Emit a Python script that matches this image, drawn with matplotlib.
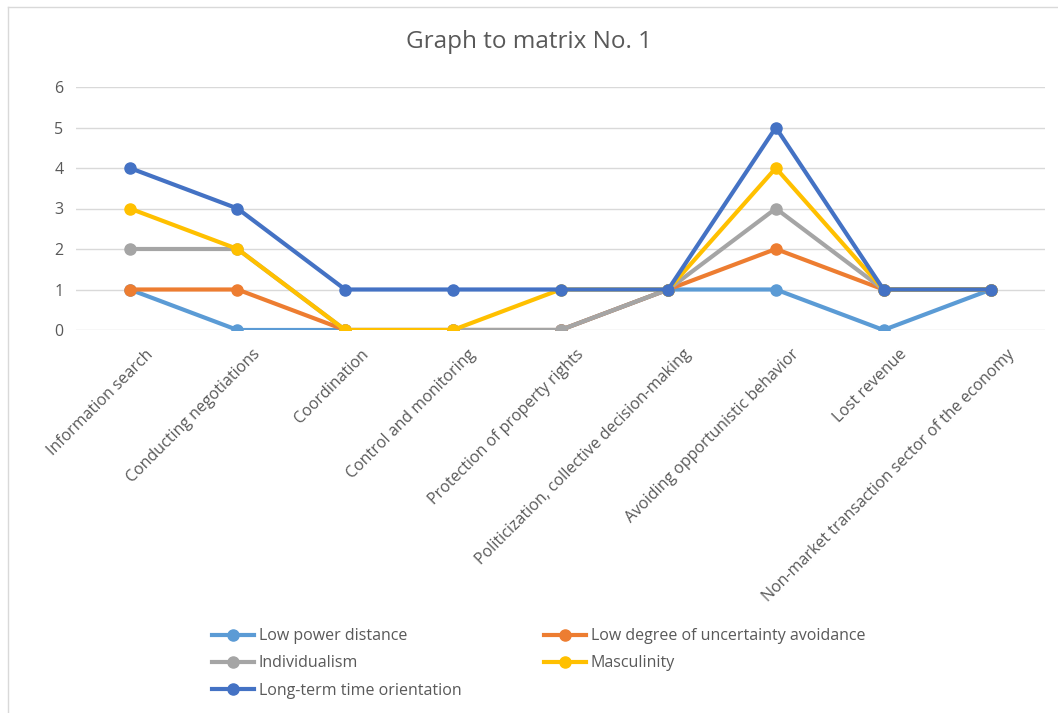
import numpy as np
import matplotlib.pyplot as plt
from matplotlib.lines import Line2D
from matplotlib.transforms import ScaledTranslation

categories = ['Information search', 'Conducting negotiations', 'Coordination',
              'Control and monitoring', 'Protection of property rights',
              'Politicization, collective decision-making',
              'Avoiding opportunistic behavior', 'Lost revenue',
              'Non-market transaction sector of the economy']

low_power = [1, 0, 0, 0, 0, 1, 1, 0, 1]
low_uncert = [1, 1, 0, 0, 0, 1, 2, 1, 1]
individualism = [2, 2, 0, 0, 0, 1, 3, 1, 1]
masculinity = [3, 2, 0, 0, 1, 1, 4, 1, 1]
long_term = [4, 3, 1, 1, 1, 1, 5, 1, 1]

names = ['Low power distance', 'Low degree of uncertainty avoidance',
         'Individualism', 'Masculinity', 'Long-term time orientation']
colors = ['#5b9bd5', '#ed7d31', '#a5a5a5', '#ffc000', '#4472c4']
series = [low_power, low_uncert, individualism, masculinity, long_term]

plt.rcParams['font.family'] = ['Open Sans', 'DejaVu Sans']

fig = plt.figure(figsize=(10.58, 7.13), dpi=100)
ax = fig.add_axes([76 / 1058, 1 - 330 / 713, (1045 - 76) / 1058, (330 - 87) / 713])

x = np.arange(len(categories))
for vals, c, n in zip(series, colors, names):
    ax.plot(x, vals, color=c, lw=3, marker='o', ms=8, label=n, zorder=3)

ax.set_xlim(-0.5, len(categories) - 0.5)
ax.set_ylim(0, 6)
ax.set_yticks(range(7))
ax.grid(axis='y', color='#d9d9d9', lw=1)
ax.set_axisbelow(True)
for s in ax.spines.values():
    s.set_visible(False)
ax.tick_params(length=0, colors='#595959', labelsize=11.5)
ax.tick_params(axis='y', pad=9)
ax.set_xticks(x)
ax.set_xticklabels(categories, rotation=45, ha='right', rotation_mode='anchor')
ax.tick_params(axis='x', pad=12)
for lab in ax.get_xticklabels():
    lab.set_transform(lab.get_transform() + ScaledTranslation(0.15, 0, fig.dpi_scale_trans))

fig.text(0.5, 1 - 42 / 713, 'Graph to matrix No. 1', ha='center', va='center',
         fontsize=17.5, color='#595959')

# chart border (top and left edges visible)
fig.add_artist(Line2D([8 / 1058, 8 / 1058], [0, 1 - 7 / 713], color='#d9d9d9', lw=1))
fig.add_artist(Line2D([8 / 1058, 1], [1 - 7 / 713, 1 - 7 / 713], color='#d9d9d9', lw=1))

handles, labels = ax.get_legend_handles_labels()
order = [0, 2, 4, 1, 3]
fig.legend([handles[i] for i in order], [labels[i] for i in order],
           loc='lower left', bbox_to_anchor=(198 / 1058, 0.0), ncol=2,
           frameon=False, fontsize=11.5, labelcolor='#595959',
           handlelength=2.6, columnspacing=5.2, labelspacing=0.7,
           handletextpad=0.3)

fig.savefig('out.png', facecolor='white')
